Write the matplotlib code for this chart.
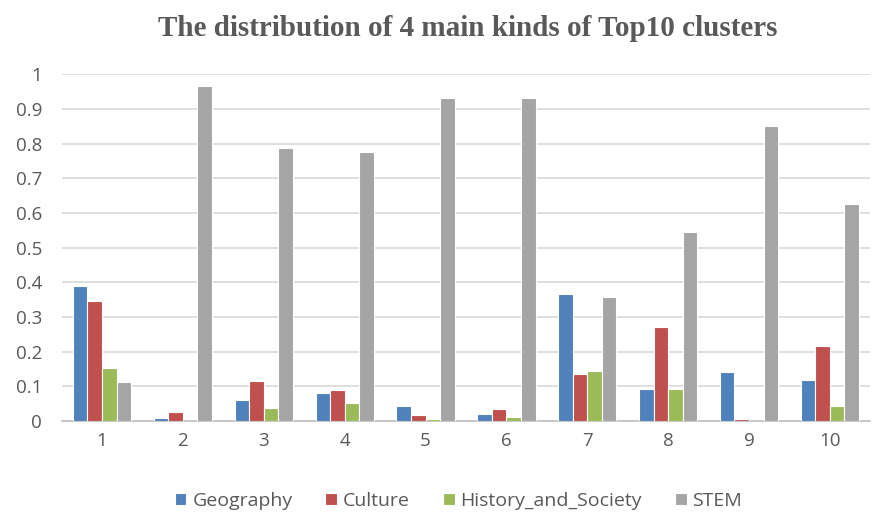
import matplotlib
matplotlib.use("Agg")
import matplotlib.pyplot as plt
import numpy as np

clusters = ["1", "2", "3", "4", "5", "6", "7", "8", "9", "10"]
geography = [0.39, 0.007, 0.06, 0.08, 0.043, 0.021, 0.365, 0.092, 0.142, 0.118]
culture = [0.345, 0.025, 0.116, 0.09, 0.017, 0.034, 0.135, 0.27, 0.004, 0.215]
history_society = [0.153, 0.0, 0.037, 0.052, 0.006, 0.01, 0.143, 0.091, 0.0, 0.043]
stem = [0.112, 0.966, 0.786, 0.775, 0.932, 0.932, 0.358, 0.545, 0.85, 0.625]

series = [
    ("Geography", geography, "#4F81BD"),
    ("Culture", culture, "#C0504D"),
    ("History_and_Society", history_society, "#9BBB59"),
    ("STEM", stem, "#A5A5A5"),
]

fig = plt.figure(figsize=(8.8, 5.12), dpi=100)
ax = fig.add_axes([0.070, 0.178, 0.919, 0.677])

x = np.arange(len(clusters))
w = 0.18
for i, (name, vals, color) in enumerate(series):
    ax.bar(x + (i - 1.5) * w, vals, w, color=color, edgecolor="white",
           linewidth=0.8, label=name, zorder=3)

ax.set_xlim(-0.5, len(clusters) - 0.5)
ax.set_ylim(0, 1)
ax.set_yticks(np.arange(0, 1.01, 0.1))
ax.set_yticklabels(["0", "0.1", "0.2", "0.3", "0.4", "0.5", "0.6", "0.7", "0.8", "0.9", "1"])
ax.set_xticks(x)
ax.set_xticklabels(clusters)
ax.grid(axis="y", color="#D9D9D9", linewidth=1.2, zorder=0)
for s in ["top", "right", "left"]:
    ax.spines[s].set_visible(False)
ax.spines["bottom"].set_color("#BFBFBF")
ax.spines["bottom"].set_linewidth(1.2)
ax.tick_params(length=0, labelsize=13.5, colors="#595959", pad=8)
ax.tick_params(axis="y", pad=14)
for lbl in ax.get_xticklabels() + ax.get_yticklabels():
    lbl.set_family("Open Sans")

fig.text(0.532, 0.945, "The distribution of 4 main kinds of Top10 clusters",
         ha="center", va="center", fontsize=21, fontweight="bold",
         family="Liberation Serif", color="#595959")

fig.legend(loc="center", bbox_to_anchor=(0.521, 0.022), ncol=4, frameon=False,
           prop={"family": "Open Sans", "size": 14}, handlelength=0.6,
           handleheight=0.6, handletextpad=0.3, columnspacing=1.7,
           labelcolor="#595959")

fig.savefig("out.png", dpi=100)
